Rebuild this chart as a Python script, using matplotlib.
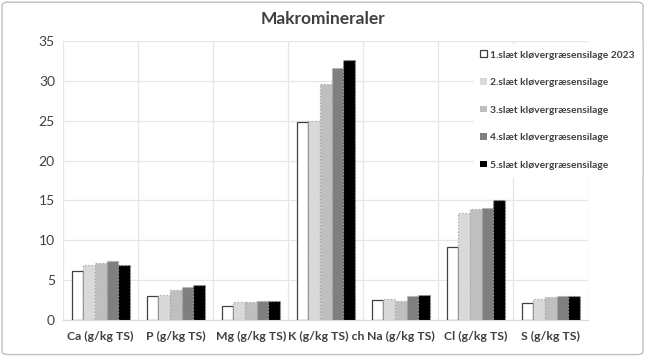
import matplotlib.pyplot as plt
import numpy as np
from matplotlib.patches import FancyBboxPatch

plt.rcParams['font.family'] = ['Lato', 'DejaVu Sans']

categories = ["Ca (g/kg TS)", "P (g/kg TS)", "Mg (g/kg TS)", "K (g/kg TS) ch",
              "Na (g/kg TS)", "Cl (g/kg TS)", "S (g/kg TS)"]
series_names = ["1.slæt kløvergræsensilage 2023", "2.slæt kløvergræsensilage",
                "3.slæt kløvergræsensilage", "4.slæt kløvergræsensilage",
                "5.slæt kløvergræsensilage"]
slaet1 = [6.2, 3.0, 1.8, 24.8, 2.5, 9.15, 2.2]
slaet2 = [6.85, 3.2, 2.25, 25.0, 2.65, 13.4, 2.7]
slaet3 = [7.15, 3.8, 2.3, 29.6, 2.4, 13.9, 2.85]
slaet4 = [7.4, 4.2, 2.4, 31.6, 3.0, 14.1, 3.05]
slaet5 = [6.85, 4.35, 2.4, 32.6, 3.2, 15.1, 3.0]

values = [slaet1, slaet2, slaet3, slaet4, slaet5]
colors = ["white", "#d9d9d9", "#bfbfbf", "#7f7f7f", "black"]
edges = ["#404040", "#a6a6a6", "#a6a6a6", "#a6a6a6", "#a6a6a6"]
styles = ["-", ":", ":", ":", ":"]

fig = plt.figure(figsize=(6.45, 3.56), dpi=100)
ax = fig.add_axes([0.098, 0.101, 0.814, 0.784])

x = np.arange(len(categories))
w = 0.155
for i in range(5):
    ax.bar(x + (i - 2) * w, values[i], width=w, color=colors[i],
           edgecolor=edges[i], linestyle=styles[i], linewidth=0.9,
           label=series_names[i], zorder=3)

ax.set_xlim(-0.5, len(categories) - 0.5)
ax.set_ylim(0, 35)
ax.set_yticks(np.arange(0, 36, 5))
ax.set_xticks(x)
ax.set_xticklabels(categories, fontsize=8.8, fontweight='bold', color='#404040')
ax.set_xticks(np.arange(-0.5, len(categories), 1), minor=True)
ax.tick_params(axis='y', labelsize=10, colors='#404040', length=0, pad=6)
ax.tick_params(axis='x', which='both', length=0, pad=8)
ax.grid(axis='y', color='#e6e6e6', linewidth=0.9, zorder=0)
ax.grid(axis='x', which='minor', color='#e6e6e6', linewidth=0.9, zorder=0)
ax.grid(axis='x', which='major', visible=False)
for s in ['top', 'right', 'left']:
    ax.spines[s].set_visible(False)
ax.spines['bottom'].set_color('#d9d9d9')

fig.suptitle("Makromineraler", x=0.5, y=0.97, fontsize=12.5, fontweight='bold',
             color='#404040')

leg = fig.legend(loc='upper left', bbox_to_anchor=(0.727, 0.89), frameon=True,
                 fancybox=False, edgecolor='white', framealpha=1,
                 prop={'size': 7.4, 'weight': 'bold'}, labelspacing=1.8,
                 handlelength=0.65, handleheight=0.65, handletextpad=0.3,
                 borderpad=0.6)
for t in leg.get_texts():
    t.set_color('#404040')
for i, h in enumerate(leg.legend_handles):
    if i > 0:
        h.set_edgecolor('none')

border = FancyBboxPatch((0.003, 0.004), 0.994, 0.99, transform=fig.transFigure,
                        boxstyle="round,pad=0,rounding_size=0.01",
                        facecolor='none', edgecolor='#bfbfbf', linewidth=1)
fig.patches.append(border)

fig.savefig("out.png", dpi=100)
